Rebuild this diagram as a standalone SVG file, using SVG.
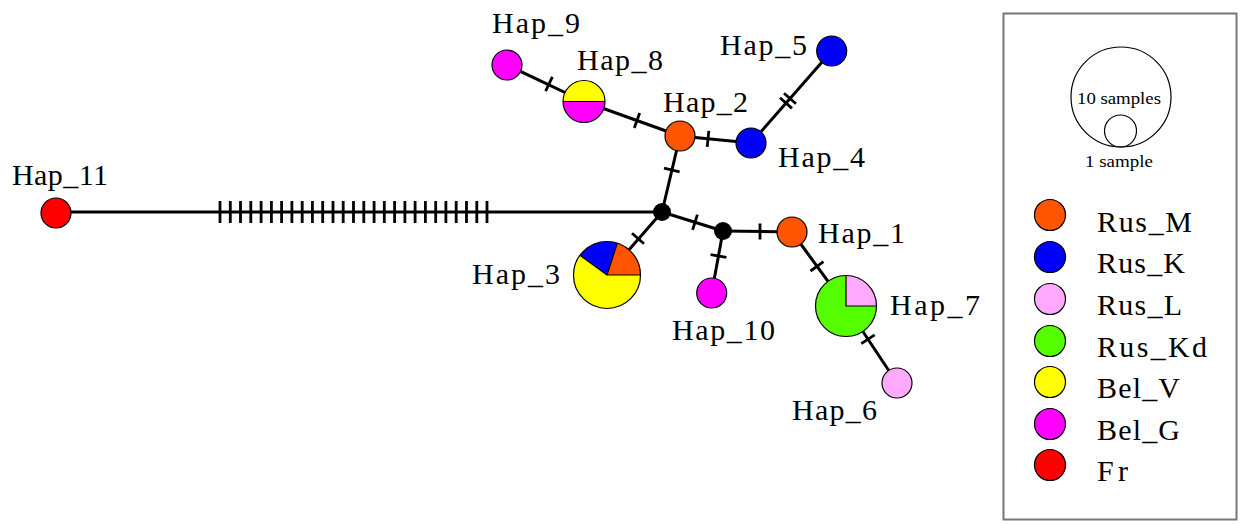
<svg xmlns="http://www.w3.org/2000/svg" width="1240" height="524" viewBox="0 0 1240 524">
<style>
.e{stroke:#000;stroke-width:3;fill:none}
.t{stroke:#000;stroke-width:2.8;fill:none}
.n{stroke:#000;stroke-width:1.2}
.lbl{font-family:"Liberation Serif","Times New Roman",serif;font-size:30px;fill:#000}
.sm{font-family:"Liberation Serif","Times New Roman",serif;font-size:17px;fill:#000}
.M{fill:#FF5500}.K{fill:#0000FF}.L{fill:#FFAAFF}.Kd{fill:#55FF00}.V{fill:#FFFF00}.G{fill:#FF00FF}.Fr{fill:#FF0000}
</style>
<rect width="1240" height="524" fill="#fff"/>
<g id="connectors">
<line class="e" x1="56" y1="212" x2="662" y2="212"/>
<line class="e" x1="662" y1="212" x2="680" y2="136"/>
<line class="e" x1="680" y1="136" x2="584" y2="101.5"/>
<line class="e" x1="584" y1="101.5" x2="507" y2="65"/>
<line class="e" x1="680" y1="136" x2="751" y2="143"/>
<line class="e" x1="751" y1="143" x2="831.7" y2="51"/>
<line class="e" x1="662" y1="212" x2="607" y2="275"/>
<line class="e" x1="662" y1="212" x2="723" y2="231"/>
<line class="e" x1="723" y1="231" x2="711.7" y2="293"/>
<line class="e" x1="723" y1="231" x2="792" y2="232"/>
<line class="e" x1="792" y1="232" x2="846" y2="306"/>
<line class="e" x1="846" y1="306" x2="897" y2="383"/>
<g id="ticks">
<path class="t" d="M552.4,76.8L545.6,91.2M639.7,113L634.3,128M708.8,130.8L707.2,146.8M780,97.8L792,108.4M784,93.2L796,103.8M664,168.1L679.6,171.9M632,233.3L644,243.7M697.4,214.6L692.6,229.8M710.6,254.6L726.4,257.4M760,223.5L760,239.5M823.5,261.6L810.5,271M874.7,334.8L861.3,343.6"/>
<path class="t" stroke-width="3.2" d="M220,201v22M230.3,201v22M240.5,201v22M250.8,201v22M261.1,201v22M271.4,201v22M281.6,201v22M291.9,201v22M302.2,201v22M312.4,201v22M322.7,201v22M333,201v22M343.2,201v22M353.5,201v22M363.8,201v22M374.1,201v22M384.3,201v22M394.6,201v22M404.9,201v22M415.1,201v22M425.4,201v22M435.7,201v22M445.9,201v22M456.2,201v22M466.5,201v22M476.8,201v22M487,201v22"/>
</g>
</g>
<g id="junction1"><circle cx="662" cy="212" r="9" fill="#000"/></g>
<g id="junction2"><circle cx="723" cy="231" r="9" fill="#000"/></g>
<g id="hap11"><circle class="n Fr" cx="56" cy="213" r="15"/><text class="lbl" x="12" y="185" textLength="96" lengthAdjust="spacing">Hap_11</text></g>
<g id="hap9"><circle class="n G" cx="507" cy="65" r="15"/><text class="lbl" x="492" y="33" textLength="88" lengthAdjust="spacing">Hap_9</text></g>
<g id="hap8"><path class="V" d="M563,101.5A21,21 0 0 1 605,101.5Z"/><path class="G" d="M563,101.5A21,21 0 0 0 605,101.5Z"/><line x1="563" y1="101.5" x2="605" y2="101.5" stroke="#000" stroke-width="1.2"/><circle cx="584" cy="101.5" r="21" fill="none" stroke="#000" stroke-width="1.2"/><text class="lbl" x="577" y="70" textLength="86" lengthAdjust="spacing">Hap_8</text></g>
<g id="hap2"><circle class="n M" cx="680" cy="136" r="15"/><text class="lbl" x="663" y="112" textLength="85" lengthAdjust="spacing">Hap_2</text></g>
<g id="hap5"><circle class="n K" cx="831.7" cy="51" r="15"/><text class="lbl" x="720" y="55" textLength="87" lengthAdjust="spacing">Hap_5</text></g>
<g id="hap4"><circle class="n K" cx="751" cy="143" r="15"/><text class="lbl" x="778" y="167" textLength="87" lengthAdjust="spacing">Hap_4</text></g>
<g id="hap3"><path class="M" d="M607,275L640.5,275A33.5,33.5 0 0 0 617.35,243.14Z"/><path class="K" d="M607,275L617.35,243.14A33.5,33.5 0 0 0 579.9,255.31Z"/><path class="V" d="M607,275L579.9,255.31A33.5,33.5 0 1 0 640.5,275Z"/><path d="M640.5,275L607,275L617.35,243.14M607,275L579.9,255.31" fill="none" stroke="#000" stroke-width="1.2"/><circle cx="607" cy="275" r="33.5" fill="none" stroke="#000" stroke-width="1.2"/><text class="lbl" x="472" y="284" textLength="88" lengthAdjust="spacing">Hap_3</text></g>
<g id="hap10"><circle class="n G" cx="711.7" cy="293" r="15"/><text class="lbl" x="672" y="340" textLength="103" lengthAdjust="spacing">Hap_10</text></g>
<g id="hap1"><circle class="n M" cx="792" cy="232" r="15"/><text class="lbl" x="818" y="243" textLength="87" lengthAdjust="spacing">Hap_1</text></g>
<g id="hap7"><path class="L" d="M846,306L876.5,306A30.5,30.5 0 0 0 846,275.5Z"/><path class="Kd" d="M846,306L846,275.5A30.5,30.5 0 1 0 876.5,306Z"/><path d="M876.5,306L846,306L846,275.5" fill="none" stroke="#000" stroke-width="1.2"/><circle cx="846" cy="306" r="30.5" fill="none" stroke="#000" stroke-width="1.2"/><text class="lbl" x="890" y="315" textLength="90" lengthAdjust="spacing">Hap_7</text></g>
<g id="hap6"><circle class="n L" cx="897" cy="383" r="15"/><text class="lbl" x="792" y="420" textLength="85" lengthAdjust="spacing">Hap_6</text></g>
<g id="legend">
<rect x="1003.5" y="13.5" width="233" height="506" fill="#fff" stroke="#777" stroke-width="2"/>
<circle cx="1121" cy="97" r="50" fill="none" stroke="#000" stroke-width="1.2"/>
<circle cx="1120.5" cy="131" r="16" fill="none" stroke="#000" stroke-width="1.2"/>
<text class="sm" x="1119" y="104" text-anchor="middle" textLength="84" lengthAdjust="spacingAndGlyphs">10 samples</text>
<text class="sm" x="1119" y="167" text-anchor="middle" textLength="68" lengthAdjust="spacingAndGlyphs">1 sample</text>
<circle class="n M" cx="1050" cy="215" r="15.5"/><text class="lbl" x="1097" y="232" textLength="95" lengthAdjust="spacing">Rus_M</text>
<circle class="n K" cx="1050" cy="257" r="15.5"/><text class="lbl" x="1097" y="273" textLength="88" lengthAdjust="spacing">Rus_K</text>
<circle class="n L" cx="1050" cy="299" r="15.5"/><text class="lbl" x="1097" y="315" textLength="85" lengthAdjust="spacing">Rus_L</text>
<circle class="n Kd" cx="1050" cy="341" r="15.5"/><text class="lbl" x="1097" y="357" textLength="110" lengthAdjust="spacing">Rus_Kd</text>
<circle class="n V" cx="1050" cy="382" r="15.5"/><text class="lbl" x="1097" y="398" textLength="83" lengthAdjust="spacing">Bel_V</text>
<circle class="n G" cx="1050" cy="424" r="15.5"/><text class="lbl" x="1097" y="440" textLength="83" lengthAdjust="spacing">Bel_G</text>
<circle class="n Fr" cx="1050" cy="465" r="15.5"/><text class="lbl" x="1097" y="481" textLength="31" lengthAdjust="spacing">Fr</text>
</g>
</svg>
